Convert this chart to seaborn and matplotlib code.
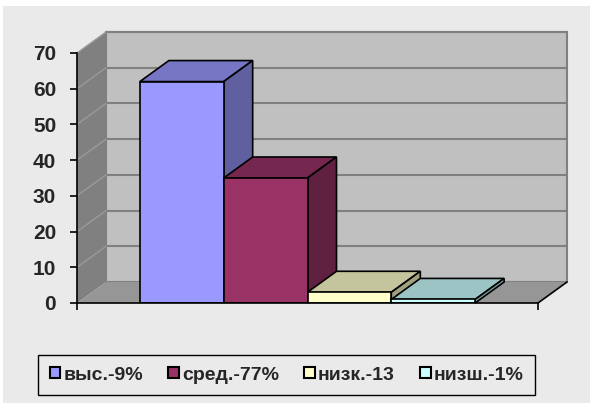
import numpy as np
import pandas as pd
import seaborn as sns
import matplotlib.pyplot as plt
import matplotlib.transforms as mtransforms
from matplotlib.patches import Polygon, Rectangle
from matplotlib.colors import to_rgb

# данные
series = ["выс.-9%", "сред.-77%", "низк.-13", "низш.-1%"]
values = [62, 35, 3, 1]
colors = ["#9999FF", "#993366", "#FFFFCC", "#CCFFFF"]

sns.set_theme(style="white")
plt.rcParams["font.family"] = ["Liberation Sans", "DejaVu Sans"]

fig = plt.figure(figsize=(5.9, 4.03), dpi=100, facecolor="white")
fig.patches.append(Rectangle((3 / 590, 0), 1, (403 - 6) / 403, transform=fig.transFigure,
                             facecolor="#EAEAEA", edgecolor="none", zorder=-10))
ax = fig.add_axes([77 / 590, 100 / 403, 461 / 590, 250 / 403])
ax.patch.set_visible(False)

df = pd.DataFrame({"серия": series, "значение": values})
sns.barplot(data=df, x="серия", y="значение", hue="серия", palette=colors,
            width=1, edgecolor="black", linewidth=1.2, saturation=1, ax=ax, legend=True)
bars = [p for c in ax.containers for p in c]

ax.set_xlim(-1.25, 4.25)
ax.set_ylim(0, 70)

# смещение в глубину (3D эффект)
dx, dy = 29 / 100, 21 / 100
off = mtransforms.ScaledTranslation(dx, dy, fig.dpi_scale_trans)
back = ax.transAxes + off
back_d = ax.transData + off


def mixed(points):
    # точки: (x_ax, y_ax, на_задней_стене)
    out = []
    for xa, ya, b in points:
        tr = back if b else ax.transAxes
        out.append(tr.transform((xa, ya)))
    return ax.transAxes.inverted().transform(np.array(out))


# стены и пол
ax.add_patch(Rectangle((0, 0), 1, 1, transform=back, facecolor="#C0C0C0",
                       edgecolor="#808080", linewidth=1.5, zorder=0, clip_on=False))
ax.add_patch(Polygon(mixed([(0, 0, 0), (0, 1, 0), (0, 1, 1), (0, 0, 1)]), closed=True,
                     transform=ax.transAxes, facecolor="#808080", edgecolor="none",
                     zorder=0, clip_on=False))
ax.add_patch(Polygon(mixed([(0, 0, 0), (1, 0, 0), (1, 0, 1), (0, 0, 1)]), closed=True,
                     transform=ax.transAxes, facecolor="#969696", edgecolor="none",
                     zorder=0, clip_on=False))
ax.plot(*mixed([(1, 0, 0), (1, 0, 1)]).T, transform=ax.transAxes, color="black",
        linewidth=1.2, clip_on=False, zorder=1)

# линии сетки
ticks = np.arange(0, 71, 10)
for t in ticks[1:]:
    ya = t / 70
    ax.plot([0, 1], [ya, ya], transform=back, color="#808080", linewidth=1.5,
            clip_on=False, zorder=0.5)
    ax.plot(*mixed([(0, ya, 0), (0, ya, 1)]).T, transform=ax.transAxes, color="#9A9A9A",
            linewidth=1, clip_on=False, zorder=0.5)

# объём столбцов
inv = ax.transData.inverted()
for i, p in enumerate(sorted(bars, key=lambda r: r.get_x())):
    x0, w, h = p.get_x(), p.get_width(), p.get_height()
    c = np.array(to_rgb(p.get_facecolor()))
    z = 3 + 2 * i
    p.set_zorder(z + 1)
    fr = ax.transData
    top_pts = [fr.transform((x0, h)), fr.transform((x0 + w, h)),
               back_d.transform((x0 + w, h)), back_d.transform((x0, h))]
    side_pts = [fr.transform((x0 + w, 0)), fr.transform((x0 + w, h)),
                back_d.transform((x0 + w, h)), back_d.transform((x0 + w, 0))]
    ax.add_patch(Polygon(inv.transform(np.array(top_pts)), closed=True, facecolor=c * 0.77,
                         edgecolor="black", linewidth=1.2, zorder=z, clip_on=False))
    ax.add_patch(Polygon(inv.transform(np.array(side_pts)), closed=True, facecolor=c * 0.63,
                         edgecolor="black", linewidth=1.2, zorder=z, clip_on=False))

# оси
sns.despine(ax=ax, top=True, right=True)
for s in ("left", "bottom"):
    ax.spines[s].set_color("black")
    ax.spines[s].set_linewidth(1.2)
    ax.spines[s].set_zorder(20)
ax.set_yticks(ticks)
ax.set_yticklabels([str(t) for t in ticks], fontsize=15, fontweight="bold")
ax.set_xticks([-1.25, 4.25])
ax.set_xticklabels(["", ""])
ax.tick_params(axis="both", direction="out", length=5, width=1.2, color="black",
               left=True, bottom=True, pad=10)
ax.set_xlabel("")
ax.set_ylabel("")

# легенда
handles, labels = ax.get_legend_handles_labels()
ax.get_legend().remove()
for h in handles:
    h.set_edgecolor("black")
    h.set_linewidth(1.5)
leg = fig.legend(handles, labels, loc="center", bbox_to_anchor=(286.5 / 590, 28 / 403),
                 ncol=4, frameon=True, fancybox=False, framealpha=1,
                 prop={"size": 14, "weight": "bold"},
                 handlelength=0.55, handleheight=0.55, handletextpad=0.15,
                 columnspacing=1.3, borderpad=0.6)
leg.get_frame().set_facecolor("#EAEAEA")
leg.get_frame().set_edgecolor("black")
leg.get_frame().set_linewidth(1)

fig.savefig("out.png", dpi=100, facecolor=fig.get_facecolor())
